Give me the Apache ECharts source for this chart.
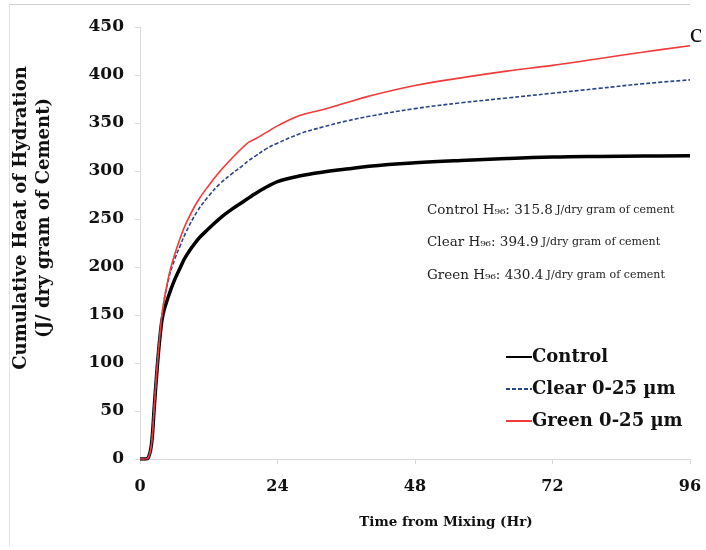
<!DOCTYPE html>
<html>
<head>
<meta charset="utf-8">
<script src="https://cdn.jsdelivr.net/npm/echarts@6/dist/echarts.min.js"></script>
<style>
  html, body { margin: 0; padding: 0; background: #ffffff; }
  #chart { width: 706px; height: 550px; }
</style>
</head>
<body>
<div id="chart"></div>
<script>
// Time from mixing, hours
const hours = [0, 1, 1.5, 2, 2.5, 3, 3.5, 4, 5, 6, 7, 8, 10, 12, 14, 16, 18, 19, 20, 22, 24, 28, 32, 36, 40, 48, 56, 64, 72, 80, 88, 96];

// Cumulative heat of hydration, J per dry gram of cement
const control = [0, 0, 2, 15, 55, 95, 128, 150, 170, 186, 199, 211, 228, 240, 251, 260, 268, 272, 276, 283, 289, 295, 299, 302, 305, 308.5, 311, 313, 314.5, 315.2, 315.6, 315.8];
const clear   = [0, 0, 2, 15, 56, 97, 131, 157, 188, 207, 222, 236, 258, 274, 287, 297, 306, 311, 315, 323, 329, 339, 346, 352, 357, 365, 371, 376, 381, 386, 391, 394.9];
const green   = [0, 0, 2, 15, 56, 97, 131, 158, 190, 212, 230, 245, 268, 285, 300, 313, 325, 330, 333, 340, 347, 358, 364, 371, 378, 389, 397, 404, 410, 417, 424, 430.4];

const seriesNames = ['Control', 'Clear 0-25 µm', 'Green 0-25 µm'];
const shortNames = ['Control', 'Clear', 'Green'];

const xTicks = [0, 24, 48, 72, 96];
const yTicks = [0, 50, 100, 150, 200, 250, 300, 350, 400, 450];

const serif = 'DejaVu Serif';
const axisGrey = '#d9d9d9';

const toPairs = vals => hours.map((t, i) => [t, vals[i]]);
const allSeries = [control, clear, green];

// H96 = cumulative heat at the last reading (96 h)
const h96Lines = shortNames.map((n, i) => {
  const v = allSeries[i][allSeries[i].length - 1];
  return '{a|' + n + ' H₉₆: ' + v.toFixed(1) + '} {b|J/dry gram of cement}';
});

const chart = echarts.init(document.getElementById('chart'));

chart.setOption({
  animation: false,
  backgroundColor: '#ffffff',
  grid: { left: 140, right: 16, top: 27, bottom: 91 },
  xAxis: {
    type: 'value',
    min: xTicks[0],
    max: xTicks[xTicks.length - 1],
    interval: 24,
    axisLine: { show: true, lineStyle: { color: axisGrey, width: 1 } },
    axisTick: { show: true, length: 5, lineStyle: { color: axisGrey } },
    splitLine: { show: false },
    axisLabel: {
      margin: 20,
      fontFamily: serif, fontWeight: 'bold', fontSize: 16, color: '#111',
      formatter: v => (xTicks.includes(v) ? String(v) : '')
    }
  },
  yAxis: {
    type: 'value',
    min: yTicks[0],
    max: yTicks[yTicks.length - 1],
    interval: 50,
    axisLine: { show: true, lineStyle: { color: axisGrey, width: 1 } },
    axisTick: { show: true, length: 5, lineStyle: { color: axisGrey } },
    splitLine: { show: false },
    axisLabel: {
      margin: 16,
      fontFamily: serif, fontWeight: 'bold', fontSize: 17, color: '#111',
      formatter: v => (yTicks.includes(v) ? String(v) : '')
    }
  },
  legend: {
    orient: 'vertical',
    left: 500,
    top: 343,
    itemGap: 14,
    itemWidth: 26,
    itemHeight: 18,
    data: seriesNames,
    itemStyle: { opacity: 0 },
    textStyle: { fontFamily: serif, fontWeight: 'bold', fontSize: 18, color: '#111', padding: [0, 0, 0, -5] }
  },
  series: [
    {
      name: seriesNames[0], type: 'line', data: toPairs(control),
      smooth: 0.4, showSymbol: false, symbol: 'none',
      lineStyle: { color: '#000000', width: 3.5 }, itemStyle: { color: '#000000' }, z: 3
    },
    {
      name: seriesNames[1], type: 'line', data: toPairs(clear),
      smooth: 0.4, showSymbol: false, symbol: 'none',
      lineStyle: { color: '#2a4585', width: 1.6, type: [4, 2] }, itemStyle: { color: '#2a4585' }, z: 4
    },
    {
      name: seriesNames[2], type: 'line', data: toPairs(green),
      smooth: 0.4, showSymbol: false, symbol: 'none',
      lineStyle: { color: '#f23a3a', width: 1.6 }, itemStyle: { color: '#f23a3a' }, z: 5
    }
  ],
  graphic: [
    // page frame (top and left edges)
    { type: 'line', shape: { x1: 9, y1: 4.5, x2: 690, y2: 4.5 }, style: { stroke: '#cfcfcf', lineWidth: 1 }, silent: true },
    { type: 'line', shape: { x1: 9.5, y1: 4, x2: 9.5, y2: 546 }, style: { stroke: '#e2e2e2', lineWidth: 1 }, silent: true },
    // y-axis title, two lines
    {
      type: 'text', x: 10, y: 218, rotation: Math.PI / 2,
      style: {
        text: 'Cumulative Heat of Hydration\n(J/ dry gram of Cement)',
        fontFamily: serif, fontWeight: 'bold', fontSize: 18, lineHeight: 23,
        fill: '#111', align: 'center', verticalAlign: 'top'
      }
    },
    // x-axis title
    {
      type: 'text', x: 446, y: 522,
      style: {
        text: 'Time from Mixing (Hr)',
        fontFamily: serif, fontWeight: 'bold', fontSize: 13.5,
        fill: '#111', align: 'center', verticalAlign: 'middle'
      }
    },
    // panel letter
    {
      type: 'text', x: 696, y: 35,
      style: {
        text: 'c', fontFamily: 'Liberation Serif', fontSize: 28,
        fill: '#111', align: 'center', verticalAlign: 'middle'
      }
    },
    // H96 summary lines
    ...h96Lines.map((t, i) => ({
      type: 'text', x: 427, y: 210 + i * 32.5,
      style: {
        text: t, fill: '#222', align: 'left', verticalAlign: 'middle',
        rich: {
          a: { fontFamily: serif, fontSize: 13.5, fill: '#222' },
          b: { fontFamily: serif, fontSize: 11, fill: '#222' }
        }
      }
    }))
  ]
});
</script>
</body>
</html>
